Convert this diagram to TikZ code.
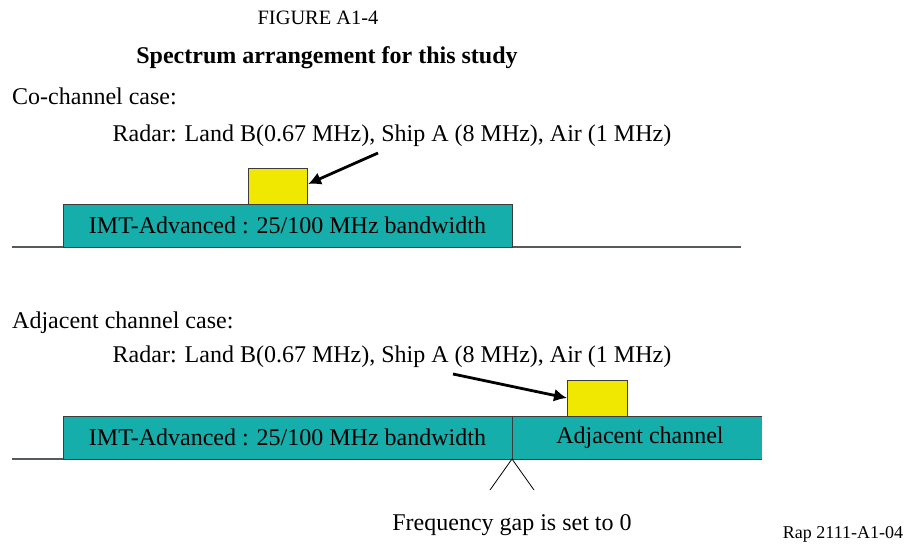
\documentclass[tikz,border=0pt]{standalone}
\usepackage{fontspec}
\setmainfont{Liberation Serif}
\usetikzlibrary{arrows.meta}
\definecolor{bandteal}{RGB}{22,174,170}
\definecolor{radaryellow}{RGB}{240,232,0}
\definecolor{edgegrey}{RGB}{60,60,60}
\definecolor{axisgrey}{RGB}{85,90,95}
\begin{document}
\begin{tikzpicture}[x=1pt,y=-1pt,
  txt/.style={inner sep=0pt,anchor=base,font=\fontsize{24}{27}\selectfont},
  band/.style={draw=edgegrey,fill=bandteal,line width=1pt},
  radar/.style={draw=edgegrey,fill=radaryellow,line width=1pt},
  axis/.style={draw=axisgrey,line width=1.3pt},
  pointer/.style={line width=2.8pt,-{Latex[length=13pt,width=13pt]}},
  gap/.style={line width=0.8pt}]
\useasboundingbox (0,0) rectangle (910,547);
% titles
\node[txt,font=\fontsize{20.4}{23}\selectfont] (fig) at (318,24) {FIGURE A1-4};
\node[txt,font=\bfseries\fontsize{24}{27}\selectfont] (title) at (327,63) {Spectrum arrangement for this study};
% co-channel case
\node[txt,anchor=base west] (co) at (12,104) {Co-channel case:};
\node[txt] (radar1) at (392,141) {Radar: Land B(0.67 MHz), Ship A (8 MHz), Air (1 MHz)};
\draw[axis] (12,247) coordinate (ax1l) -- (741,247) coordinate (ax1r);
\draw[band] (63,204) rectangle (512,247);
\node[txt] (imt1) at (287.5,233) {IMT-Advanced : 25/100 MHz bandwidth};
\draw[radar] (248,168) rectangle (307,204);
\coordinate (tip1) at (308,184);
\coordinate (tail1) at (378,153);
\draw[pointer] (tail1) -- (tip1);
% adjacent channel case
\node[txt,anchor=base west] (adj) at (12,328) {Adjacent channel case:};
\node[txt] (radar2) at (392,362) {Radar: Land B(0.67 MHz), Ship A (8 MHz), Air (1 MHz)};
\draw[axis] (12,459) -- (512,459);
\fill[bandteal] (63,416) rectangle (762,459);
\draw[edgegrey,line width=1pt] (762,416) -- (63,416) -- (63,459) -- (762,459);
\draw[edgegrey,line width=1pt] (512,416) coordinate (split) -- (512,459) coordinate (gapv);
\node[txt] (imt2) at (287.5,445) {IMT-Advanced : 25/100 MHz bandwidth};
\node[txt] (adjch) at (640,443) {Adjacent channel};
\draw[radar] (567,380) rectangle (627,416);
\coordinate (tip2) at (567,398);
\coordinate (tail2) at (453,374);
\draw[pointer] (tail2) -- (tip2);
\draw[gap] (490,490) -- (gapv) -- (534,490);
\node[txt] (gaplabel) at (512,530) {Frequency gap is set to 0};
\node[txt,font=\fontsize{18}{20}\selectfont] (rap) at (843,538) {Rap 2111-A1-04};
\end{tikzpicture}
\end{document}
